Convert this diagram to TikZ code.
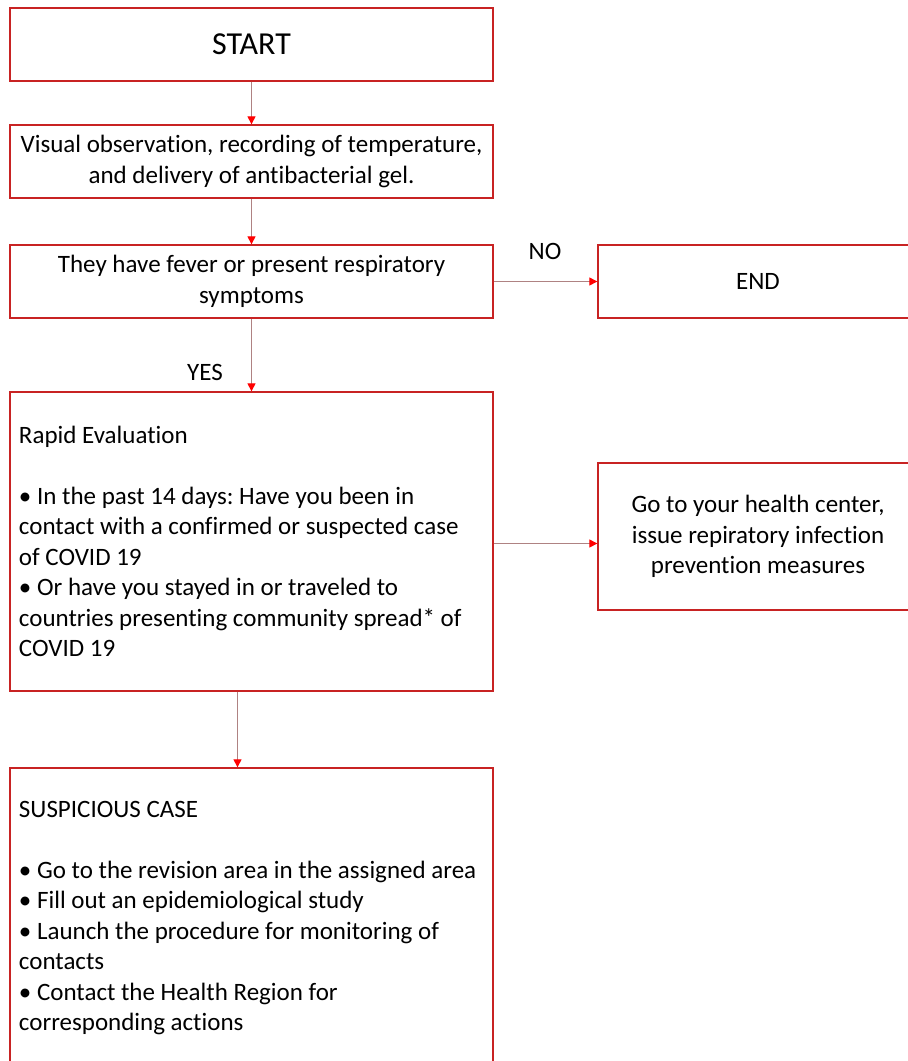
\documentclass[tikz,border=0pt]{standalone}
\usepackage{fontspec}
\setmainfont[Ligatures=NoCommon]{Carlito}
\usetikzlibrary{arrows.meta}
\definecolor{boxred}{RGB}{200,35,35}
\definecolor{linegray}{RGB}{175,130,130}
% natural word spaces inside wide text boxes
\newcommand{\plainspace}{\spaceskip=0pt\xspaceskip=0pt\relax}

\begin{document}
\frenchspacing
\begin{tikzpicture}[x=1pt,y=-1pt,
    box/.style={draw=boxred, line width=1.3pt, fill=white, minimum width=483pt,
        minimum height=73pt, inner sep=0pt, align=center,
        font=\fontsize{25}{30.5}\selectfont},
    sidebox/.style={box, minimum width=320pt},
    listbox/.style={draw=boxred, line width=1.3pt, fill=white, minimum width=483pt,
        inner sep=0pt, inner xsep=9pt, text width=465pt, align=flush left,
        font=\fontsize{25}{30.5}\selectfont},
    flow/.style={draw=linegray, line width=1pt,
        -{Triangle[length=8pt,width=8pt,color=red]}},
    lbl/.style={font=\fontsize{25}{30.5}\selectfont}]
    \useasboundingbox (0,0) rectangle (908,1061);
    \clip (0,0) rectangle (908,1061);

    % Main column
    \node[box, font=\fontsize{32}{36}\selectfont] (start) at (251.5,44.5) {START};
    \node[box] (observe) at (251.5,161.5)
        {Visual observation, recording of temperature,\\ and delivery of antibacterial gel.};
    \node[box] (fever) at (251.5,281.5)
        {They have fever or present respiratory\\ symptoms};
    \node[listbox, minimum height=299pt] (rapid) at (251.5,541.5)
        {\plainspace Rapid Evaluation\\[30.5pt]
         • In the past 14 days: Have you been in\\
         \mbox{contact with a confirmed or suspected case}\\
         of COVID 19\\
         • Or have you stayed in or traveled to\\
         \mbox{countries presenting community spread* of}\\
         COVID 19};
    \node[listbox, minimum height=300pt] (suspect) at (251.5,918)
        {\plainspace SUSPICIOUS CASE\\[30.5pt]
         \mbox{• Go to the revision area in the assigned area}\\
         • Fill out an epidemiological study\\
         \mbox{• Launch the procedure for monitoring of}\\
         contacts\\
         • Contact the Health Region for\\
         corresponding actions};

    % Side column
    \node[sidebox] (finish) at (758,281.5) {END};
    \node[sidebox, minimum height=147pt] (health) at (758,536.5)
        {Go to your health center,\\ issue repiratory infection\\ prevention measures};

    % Connectors
    \draw[flow] (start) -- (observe);
    \draw[flow] (observe) -- (fever);
    \draw[flow] (fever) -- (finish);
    \draw[flow] (fever) -- (rapid);
    \draw[flow] ([yshift=-2pt]rapid.east) -- ([yshift=-2pt]rapid.east -| health.west);
    \draw[flow] ([xshift=-14pt]rapid.south) -- ([xshift=-14pt]suspect.north);

    \node[lbl] (no) at (545,251) {NO};
    \node[lbl] (yes) at (205,372) {YES};
\end{tikzpicture}
\end{document}
